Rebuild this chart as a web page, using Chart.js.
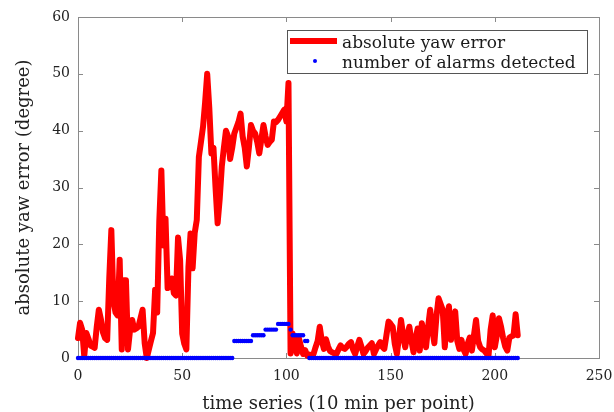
<!DOCTYPE html>
<html>
<head>
<meta charset="utf-8">
<script src="https://cdn.jsdelivr.net/npm/chart.js@4.4.0/dist/chart.umd.min.js"></script>
<style>
    body { margin: 0; background: #fff; }
    #chart { display: block; }
</style>
</head>
<body>
<canvas id="chart" width="614" height="412"></canvas>
<script>
// absolute yaw error, one value per 10 min point
var yawError = [
    3.5, 6.2, 5.0, 0.3, 4.4, 3.4, 2.2, 2.0, 1.8, 5.5,
    8.5, 6.8, 4.5, 3.5, 3.2, 14.0, 22.5, 10.0, 8.0, 7.5,
    17.3, 1.5, 13.7, 13.7, 1.5, 5.0, 6.7, 5.0, 5.2, 5.5,
    7.0, 8.5, 2.6, 0.0, 1.5, 3.0, 4.4, 12.0, 8.0, 24.0,
    33.0, 19.8, 24.5, 12.3, 12.5, 14.0, 11.4, 11.0, 21.2, 17.2,
    4.3, 2.5, 1.5, 16.0, 21.9, 15.8, 22.0, 24.3, 35.4, 38.0,
    40.7, 45.0, 50.0, 44.0, 36.0, 37.0, 30.0, 23.7, 28.0, 33.7,
    37.0, 40.0, 39.0, 35.0, 37.0, 39.5, 40.5, 41.5, 43.0, 39.0,
    37.0, 33.7, 37.0, 41.0, 40.0, 39.5, 38.0, 36.0, 38.5, 41.0,
    39.0, 37.5, 38.0, 38.4, 41.6, 41.5, 41.9, 42.5, 43.1, 43.7,
    41.6, 48.4, 0.8, 4.3, 2.5, 0.8, 3.5, 2.0, 0.7, 1.4,
    0.4, 0.6, 0.5, 0.7, 1.9, 3.0, 5.5, 3.0, 1.6, 3.3,
    2.0, 1.2, 1.0, 0.8, 0.7, 1.5, 2.2, 1.8, 1.6, 2.0,
    2.5, 2.8, 1.5, 0.7, 2.0, 3.2, 2.0, 0.7, 1.2, 1.8,
    2.2, 2.6, 0.7, 1.5, 2.2, 2.8, 2.0, 1.6, 4.0, 6.4,
    6.0, 5.5, 2.5, 0.7, 3.5, 6.7, 4.0, 1.9, 4.0, 5.5,
    3.0, 1.0, 3.5, 5.2, 1.3, 6.1, 4.0, 1.9, 5.5, 8.5,
    5.0, 2.6, 7.3, 10.5, 9.5, 8.5, 1.9, 7.0, 9.1, 3.2,
    6.0, 8.2, 3.0, 1.6, 3.2, 1.5, 0.7, 2.5, 3.6, 1.3,
    4.0, 6.7, 3.0, 1.9, 1.5, 1.3, 0.8, 0.4, 5.0, 7.5,
    1.9, 4.0, 7.0, 5.5, 3.5, 2.0, 1.3, 3.6, 3.8, 4.0,
    7.7, 4.0
];

// number of alarms detected at each point
var alarms = [
    0, 0, 0, 0, 0, 0, 0, 0, 0, 0, 0, 0, 0, 0, 0, 0, 0, 0, 0, 0, 0, 0, 0, 0, 0,
    0, 0, 0, 0, 0, 0, 0, 0, 0, 0, 0, 0, 0, 0, 0, 0, 0, 0, 0, 0, 0, 0, 0, 0, 0,
    0, 0, 0, 0, 0, 0, 0, 0, 0, 0, 0, 0, 0, 0, 0, 0, 0, 0, 0, 0, 0, 0, 0, 0, 0,
    3, 3, 3, 3, 3, 3, 3, 3, 3,
    4, 4, 4, 4, 4, 4,
    5, 5, 5, 5, 5, 5,
    6, 6, 6, 6, 6, 6,
    5,
    4, 4, 4, 4, 4, 4,
    3, 3,
    0, 0, 0, 0, 0, 0, 0, 0, 0, 0, 0, 0, 0, 0, 0, 0, 0, 0, 0, 0, 0, 0, 0, 0, 0,
    0, 0, 0, 0, 0, 0, 0, 0, 0, 0, 0, 0, 0, 0, 0, 0, 0, 0, 0, 0, 0, 0, 0, 0, 0,
    0, 0, 0, 0, 0, 0, 0, 0, 0, 0, 0, 0, 0, 0, 0, 0, 0, 0, 0, 0, 0, 0, 0, 0, 0,
    0, 0, 0, 0, 0, 0, 0, 0, 0, 0, 0, 0, 0, 0, 0, 0, 0, 0, 0, 0, 0, 0, 0, 0, 0,
    0
];

var xTicks = [0, 50, 100, 150, 200, 250];
var yTicks = [0, 10, 20, 30, 40, 50, 60];
var seriesNames = ['absolute yaw error', 'number of alarms detected'];

var serif = "'DejaVu Serif', 'Liberation Serif', serif";
var frameColor = '#8a8a8a';

// x is the point number, so pair every value with its index
function toPoints(values) {
    return values.map(function(v, i) { return { x: i, y: v }; });
}

// box round the plot with short ticks pointing inwards, like matlab
var framePlugin = {
    id: 'frame',
    beforeDatasetsDraw: function(chart) {
        let ctx = chart.ctx;
        let a = chart.chartArea;
        let xs = chart.scales.x;
        let ys = chart.scales.y;
        let len = 5;
        ctx.save();
        ctx.strokeStyle = frameColor;
        ctx.lineWidth = 1;
        ctx.strokeRect(Math.round(a.left) + 0.5, Math.round(a.top) + 0.5,
            Math.round(a.right - a.left), Math.round(a.bottom - a.top));
        ctx.beginPath();
        for (var i in xTicks) {
            let px = Math.round(xs.getPixelForValue(xTicks[i])) + 0.5;
            ctx.moveTo(px, a.bottom); ctx.lineTo(px, a.bottom - len);
            ctx.moveTo(px, a.top); ctx.lineTo(px, a.top + len);
        }
        for (var j in yTicks) {
            let py = Math.round(ys.getPixelForValue(yTicks[j])) + 0.5;
            ctx.moveTo(a.left, py); ctx.lineTo(a.left + len, py);
            ctx.moveTo(a.right, py); ctx.lineTo(a.right - len, py);
        }
        ctx.stroke();
        ctx.restore();
    }
};

// legend box in the upper right corner of the plot
var legendPlugin = {
    id: 'boxLegend',
    afterDatasetsDraw: function(chart) {
        let ctx = chart.ctx;
        let a = chart.chartArea;
        let right = a.right - 12;
        let left = right - 300;
        let top = a.top + 13;
        ctx.save();
        ctx.fillStyle = '#fff';
        ctx.fillRect(left, top, right - left, 43);
        ctx.strokeStyle = '#555';
        ctx.lineWidth = 1;
        ctx.strokeRect(left + 0.5, top + 0.5, right - left, 43);

        // red line sample
        ctx.strokeStyle = '#ff0000';
        ctx.lineWidth = 6;
        ctx.beginPath();
        ctx.moveTo(left + 3, top + 11);
        ctx.lineTo(left + 50, top + 11);
        ctx.stroke();

        // blue dot sample
        ctx.fillStyle = '#0000ff';
        ctx.beginPath();
        ctx.arc(left + 28, top + 31, 2, 0, Math.PI * 2);
        ctx.fill();

        ctx.fillStyle = '#1a1a1a';
        ctx.font = '17px ' + serif;
        ctx.textBaseline = 'alphabetic';
        ctx.fillText(seriesNames[0], left + 55, top + 18);
        ctx.fillText(seriesNames[1], left + 55, top + 38);
        ctx.restore();
    }
};

var chart = new Chart(document.getElementById('chart'), {
    type: 'line',
    data: {
        datasets: [{
            label: seriesNames[0],
            data: toPoints(yawError),
            borderColor: '#ff0000',
            backgroundColor: '#ff0000',
            borderWidth: 6,
            borderJoinStyle: 'round',
            borderCapStyle: 'round',
            pointRadius: 0,
            tension: 0,
            clip: false,
            order: 1
        }, {
            label: seriesNames[1],
            data: toPoints(alarms),
            showLine: false,
            pointRadius: 2.2,
            pointBorderWidth: 0,
            pointBackgroundColor: '#0000ff',
            borderColor: '#0000ff',
            clip: false,
            order: 0
        }]
    },
    options: {
        responsive: false,
        animation: false,
        devicePixelRatio: 1,
        layout: { padding: { top: 17, right: 15, left: 0, bottom: 0 } },
        plugins: {
            legend: { display: false },
            tooltip: { enabled: false }
        },
        scales: {
            x: {
                type: 'linear',
                min: 0,
                max: 250,
                grid: { display: false, drawTicks: false },
                border: { display: false },
                ticks: {
                    stepSize: 50,
                    padding: 10,
                    color: '#222',
                    font: { family: serif, size: 14 }
                },
                title: {
                    display: true,
                    text: 'time series (10 min per point)',
                    color: '#222',
                    font: { family: serif, size: 18 },
                    padding: { top: 0, bottom: -3 }
                },
                afterFit: function(scale) {
                    // keep the plot right edge where the reference has it
                    scale.height = 54;
                    scale.paddingLeft = 0;
                    scale.paddingRight = 0;
                }
            },
            y: {
                min: 0,
                max: 60,
                grid: { display: false, drawTicks: false },
                border: { display: false },
                ticks: {
                    stepSize: 10,
                    padding: 8,
                    color: '#222',
                    font: { family: serif, size: 14 }
                },
                title: {
                    display: true,
                    text: 'absolute yaw error (degree)',
                    color: '#222',
                    font: { family: serif, size: 18 },
                    padding: { top: 14, bottom: 0 }
                },
                afterFit: function(scale) {
                    scale.width = 78;
                    scale.paddingTop = 0;
                    scale.paddingBottom = 0;
                }
            }
        }
    },
    plugins: [framePlugin, legendPlugin]
});
</script>
</body>
</html>
